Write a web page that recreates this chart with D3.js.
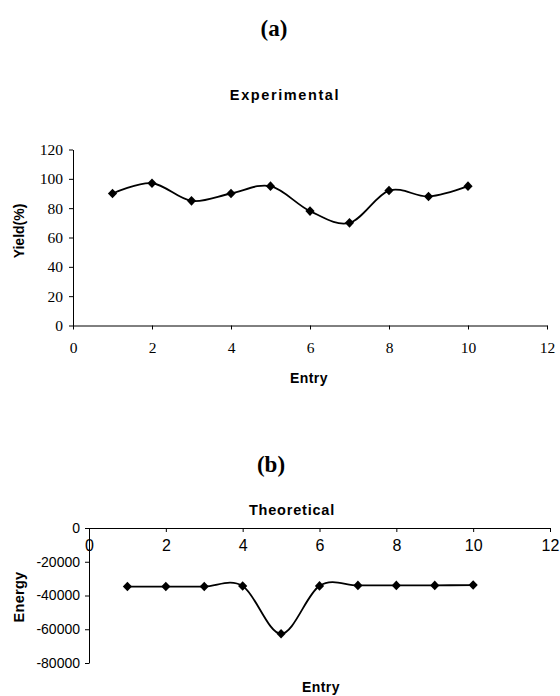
<!DOCTYPE html>
<html>
<head>
<meta charset="utf-8">
<script src="https://cdn.jsdelivr.net/npm/d3@7"></script>
<style>
  html, body { margin: 0; padding: 0; background: #fff; }
  svg { display: block; }
</style>
</head>
<body>
<script>
// ---- data ----
const entries = [1, 2, 3, 4, 5, 6, 7, 8, 9, 10];
const yieldValues = [90, 97, 85, 90, 95, 78, 70, 92, 88, 95];
const energyValues = [-34700, -34700, -34700, -34400, -62700, -34300, -34000, -34000, -34000, -33800];
const xTicks = [0, 2, 4, 6, 8, 10, 12];
const yieldTicks = [0, 20, 40, 60, 80, 100, 120];
const energyTicks = [-80000, -60000, -40000, -20000, 0];

const W = 560, H = 696;
const svg = d3.select("body").append("svg").attr("width", W).attr("height", H);

const serif = "'Liberation Serif', 'Times New Roman', serif";
const sans = "'Liberation Sans', Arial, sans-serif";

const diamond = "M0,-4.8L4.6,0L0,4.8L-4.6,0Z";
const curve = d3.curveCatmullRom.alpha(0);

// ================= (a) Experimental =================
const xA = d3.scaleLinear().domain([0, 12]).range([73, 547]);
const yA = d3.scaleLinear().domain([0, 120]).range([325.5, 149.5]);

svg.append("text").attr("x", 274).attr("y", 35.5).attr("text-anchor", "middle")
  .attr("font-family", serif).attr("font-weight", "bold").attr("font-size", 23).text("(a)");
svg.append("text").attr("x", 285).attr("y", 100).attr("text-anchor", "middle")
  .attr("font-family", sans).attr("font-weight", "bold").attr("font-size", 14.5)
  .attr("letter-spacing", 1.6).text("Experimental");

const axA_y = svg.append("g").attr("transform", `translate(${xA(0)},0)`)
  .call(d3.axisLeft(yA).tickValues(yieldTicks).tickSizeInner(4).tickSizeOuter(0).tickPadding(6));
const axA_x = svg.append("g").attr("transform", `translate(0,${yA(0)})`)
  .call(d3.axisBottom(xA).tickValues(xTicks).tickSizeInner(4).tickSizeOuter(0).tickPadding(12));
[axA_y, axA_x].forEach(g => {
  g.selectAll("text").attr("font-family", serif).attr("font-size", 15.5).attr("fill", "#000");
  g.selectAll("path,line").attr("stroke", "#000").attr("stroke-width", 1);
  g.attr("font-family", null).attr("font-size", null);
});

svg.append("text").attr("transform", "translate(24,231) rotate(-90)").attr("text-anchor", "middle")
  .attr("font-family", sans).attr("font-weight", "bold").attr("font-size", 14).text("Yield(%)");
svg.append("text").attr("x", 309).attr("y", 383).attr("text-anchor", "middle")
  .attr("font-family", sans).attr("font-weight", "bold").attr("font-size", 14)
  .attr("letter-spacing", 0.4).text("Entry");

const dataA = entries.map((e, i) => ({ x: e, y: yieldValues[i] }));
svg.append("path").datum(dataA)
  .attr("d", d3.line().x(d => xA(d.x)).y(d => yA(d.y)).curve(curve))
  .attr("fill", "none").attr("stroke", "#000").attr("stroke-width", 1.8);
svg.append("g").selectAll("path").data(dataA).join("path")
  .attr("d", diamond).attr("transform", d => `translate(${xA(d.x)},${yA(d.y)})`).attr("fill", "#000");

// ================= (b) Theoretical =================
const xB = d3.scaleLinear().domain([0, 12]).range([89, 550]);
const yB = d3.scaleLinear().domain([-80000, 0]).range([663, 528]);

svg.append("text").attr("x", 271).attr("y", 471.5).attr("text-anchor", "middle")
  .attr("font-family", serif).attr("font-weight", "bold").attr("font-size", 23).text("(b)");
svg.append("text").attr("x", 292).attr("y", 515).attr("text-anchor", "middle")
  .attr("font-family", sans).attr("font-weight", "bold").attr("font-size", 14.5)
  .attr("letter-spacing", 0.8).text("Theoretical");

const axB_y = svg.append("g").attr("transform", `translate(${xB(0)},0)`)
  .call(d3.axisLeft(yB).tickValues(energyTicks).tickFormat(d3.format("d")).tickSizeInner(4).tickSizeOuter(0).tickPadding(5));
const axB_x = svg.append("g").attr("transform", `translate(0,${yB(0)})`)
  .call(d3.axisBottom(xB).tickValues(xTicks).tickSizeInner(4).tickSizeOuter(0).tickPadding(8));
axB_y.selectAll("text").attr("font-family", sans).attr("font-size", 14).attr("fill", "#000")
  .text(d => d3.format("d")(d).replace("−", "-"));
axB_x.selectAll("text").attr("font-family", sans).attr("font-size", 16).attr("fill", "#000");
[axB_y, axB_x].forEach(g => {
  g.selectAll("path,line").attr("stroke", "#000").attr("stroke-width", 1);
  g.attr("font-family", null).attr("font-size", null);
});

svg.append("text").attr("transform", "translate(24,597) rotate(-90)").attr("text-anchor", "middle")
  .attr("font-family", sans).attr("font-weight", "bold").attr("font-size", 14.5)
  .attr("letter-spacing", 0.3).text("Energy");
svg.append("text").attr("x", 321).attr("y", 692).attr("text-anchor", "middle")
  .attr("font-family", sans).attr("font-weight", "bold").attr("font-size", 14)
  .attr("letter-spacing", 0.4).text("Entry");

const dataB = entries.map((e, i) => ({ x: e, y: energyValues[i] }));
svg.append("path").datum(dataB)
  .attr("d", d3.line().x(d => xB(d.x)).y(d => yB(d.y)).curve(curve))
  .attr("fill", "none").attr("stroke", "#000").attr("stroke-width", 1.8);
svg.append("g").selectAll("path").data(dataB).join("path")
  .attr("d", diamond).attr("transform", d => `translate(${xB(d.x)},${yB(d.y)})`).attr("fill", "#000");
</script>
</body>
</html>
